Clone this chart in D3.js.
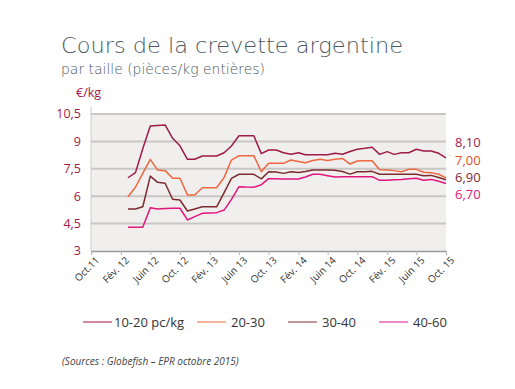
<!DOCTYPE html>
<html>
<head>
<meta charset="utf-8">
<script src="https://cdn.jsdelivr.net/npm/d3@7"></script>
<style>
  body { margin: 0; background: #fff; }
  svg { display: block; font-family: 'Open Sans', sans-serif; }
</style>
</head>
<body>
<div class="viz"></div>
<script>
// monthly prices, March 2012 -> October 2015 (EUR/kg)
const months = d3.timeMonth.range(new Date(2012, 2, 1), new Date(2015, 10, 1))
const s1020 = [7.01, 7.29, 8.6, 9.84, 9.87, 9.90, 9.17, 8.76, 8.02, 8.02, 8.2, 8.2, 8.2, 8.38, 8.75, 9.31, 9.31, 9.31, 8.33, 8.53, 8.53, 8.38, 8.3, 8.38, 8.27, 8.27, 8.27, 8.27, 8.35, 8.3, 8.45, 8.57, 8.62, 8.68, 8.29, 8.44, 8.29, 8.38, 8.38, 8.57, 8.47, 8.47, 8.35, 8.10]
const s2030 = [5.97, 6.49, 7.25, 8.02, 7.43, 7.40, 6.98, 6.98, 6.07, 6.07, 6.46, 6.46, 6.46, 7.03, 7.98, 8.22, 8.22, 8.22, 7.34, 7.80, 7.80, 7.80, 7.98, 7.90, 7.83, 7.95, 8.02, 7.95, 8.02, 8.07, 7.76, 7.93, 7.94, 7.94, 7.45, 7.43, 7.40, 7.34, 7.47, 7.47, 7.31, 7.29, 7.20, 7.00]
const s3040 = [5.30, 5.30, 5.42, 7.10, 6.76, 6.71, 5.83, 5.79, 5.19, 5.30, 5.42, 5.42, 5.42, 6.2, 6.98, 7.2, 7.2, 7.2, 6.95, 7.34, 7.32, 7.25, 7.34, 7.30, 7.35, 7.43, 7.43, 7.43, 7.42, 7.35, 7.21, 7.34, 7.34, 7.36, 7.20, 7.20, 7.20, 7.20, 7.20, 7.20, 7.12, 7.14, 7.02, 6.90]
const s4060 = [4.30, 4.30, 4.30, 5.37, 5.30, 5.32, 5.34, 5.34, 4.70, 4.88, 5.06, 5.08, 5.10, 5.24, 5.83, 6.52, 6.50, 6.49, 6.63, 6.96, 6.95, 6.94, 6.94, 6.94, 7.05, 7.20, 7.20, 7.12, 7.05, 7.07, 7.07, 7.07, 7.07, 7.07, 6.87, 6.87, 6.90, 6.92, 6.96, 6.98, 6.87, 6.92, 6.82, 6.70]

const seriesNames = ['10-20 pc/kg', '20-30', '30-40', '40-60']
const lastLabels = ['8,10', '7,00', '6,90', '6,70']
const yTicks = [3, 4.5, 6, 7.5, 9, 10.5]
const xTickDates = d3.timeMonth.range(new Date(2011, 9, 1), new Date(2015, 10, 1), 4)
const xTickLabels = ['Oct.11', 'Fév. 12', 'Juin 12', 'Oct. 12', 'Fév. 13', 'Juin 13', 'Oct. 13', 'Fév. 14', 'Juin 14', 'Oct. 14', 'Fév. 15', 'Juin 15', 'Oct. 15']

const lineColors = ['#9e1a48', '#f0663f', '#7c2b30', '#e2157f']
const legendColors = ['#d27a98', '#f5aa92', '#b98c8c', '#ea7cc0']
const labelColors = ['#a3194b', '#e8501e', '#7c2b30', '#e2157f']
const crimson = '#a3194b'

const width = 515, height = 389
const svg = d3.select('.viz').append('svg')
  .attr('width', width)
  .attr('height', height)

const x = d3.scaleTime()
  .domain([new Date(2011, 9, 1), new Date(2015, 9, 1)])
  .range([91, 446])
const y = d3.scaleLinear().domain([3, 10.5]).range([251, 114])

// titles
svg.append('text')
  .attr('x', 61).attr('y', 53)
  .attr('fill', '#4b5861')
  .attr('textLength', 342)
  .attr('lengthAdjust', 'spacingAndGlyphs')
  .style('font-family', "'DejaVu Sans', sans-serif")
  .style('font-weight', 200)
  .style('font-size', '22px')
  .text('Cours de la crevette argentine')

svg.append('text')
  .attr('x', 61).attr('y', 74)
  .attr('fill', '#4b5861')
  .attr('textLength', 204)
  .attr('lengthAdjust', 'spacingAndGlyphs')
  .style('font-family', "'DejaVu Sans', sans-serif")
  .style('font-weight', 200)
  .style('font-size', '14px')
  .text('par taille (pièces/kg entières)')

svg.append('text')
  .attr('x', 76).attr('y', 97)
  .attr('fill', crimson)
  .style('font-size', '12.5px')
  .text('€/kg')

// plot background
svg.append('rect')
  .attr('x', 91).attr('y', y(10.5))
  .attr('width', 446 - 91).attr('height', y(3) - y(10.5))
  .attr('fill', '#f0efed')

// grid
svg.append('g')
  .selectAll('line')
  .data(yTicks.filter(d => d > 3)).enter().append('line')
  .attr('x1', 91).attr('x2', 446)
  .attr('y1', d => y(d)).attr('y2', d => y(d))
  .attr('stroke', '#c9c7c5')
  .attr('stroke-width', 2)

// y axis line
svg.append('line')
  .attr('x1', 91).attr('x2', 91)
  .attr('y1', 107).attr('y2', 251)
  .attr('stroke', '#cfcdcb')
  .attr('stroke-width', 1)

svg.append('g')
  .selectAll('text')
  .data(yTicks).enter().append('text')
  .attr('x', 81)
  .attr('y', d => y(d))
  .attr('dy', '0.35em')
  .attr('text-anchor', 'end')
  .attr('fill', crimson)
  .style('font-size', '12.5px')
  .text(d => String(d).replace('.', ','))

// x axis
const xAxis = svg.append('g')
  .attr('transform', `translate(0,${y(3)})`)
  .call(d3.axisBottom(x).tickValues(xTickDates).tickSize(4).tickSizeOuter(0)
    .tickFormat((d, i) => xTickLabels[i]))
xAxis.select('.domain').attr('stroke', '#9a9a9a').attr('stroke-width', 1.5)
xAxis.selectAll('.tick line').attr('stroke', '#b5b5b5')
xAxis.selectAll('.tick text')
  .attr('fill', '#333')
  .style('font-size', '10px')
  .style('font-family', "'Open Sans', sans-serif")
  .attr('text-anchor', 'end')
  .attr('dx', '-0.1em')
  .attr('dy', '0.6em')
  .attr('transform', 'rotate(-45)')

// series lines
const allSeries = [s1020, s2030, s3040, s4060]
const line = d3.line()
  .x((d, i) => x(months[i]))
  .y(d => y(d))

svg.append('g')
  .selectAll('path')
  .data(allSeries).enter().append('path')
  .attr('d', d => line(d))
  .attr('fill', 'none')
  .attr('stroke', (d, i) => lineColors[i])
  .attr('stroke-width', 1.5)
  .attr('stroke-linejoin', 'round')

// end value labels
const endY = [142, 160.5, 177, 194]
svg.append('g')
  .selectAll('text')
  .data(lastLabels).enter().append('text')
  .attr('x', 455)
  .attr('y', (d, i) => endY[i])
  .attr('dy', '0.35em')
  .attr('fill', (d, i) => labelColors[i])
  .style('font-size', '13px')
  .text(d => d)

// legend
const legendX = [83, 197, 288, 379]
const legend = svg.append('g')
  .selectAll('g')
  .data(seriesNames).enter().append('g')
  .attr('transform', (d, i) => `translate(${legendX[i]},322)`)

legend.append('line')
  .attr('x1', 0).attr('x2', 29)
  .attr('stroke', (d, i) => legendColors[i])
  .attr('stroke-width', 1.8)

legend.append('text')
  .attr('x', (d, i) => i === 0 ? 31 : 34)
  .attr('dy', '0.35em')
  .attr('fill', '#333')
  .style('font-size', '13px')
  .text(d => d)

svg.append('text')
  .attr('x', 62).attr('y', 365)
  .attr('fill', '#444')
  .style('font-size', '10px')
  .style('font-style', 'italic')
  .text('(Sources : Globefish – EPR octobre 2015)')
</script>
</body>
</html>
